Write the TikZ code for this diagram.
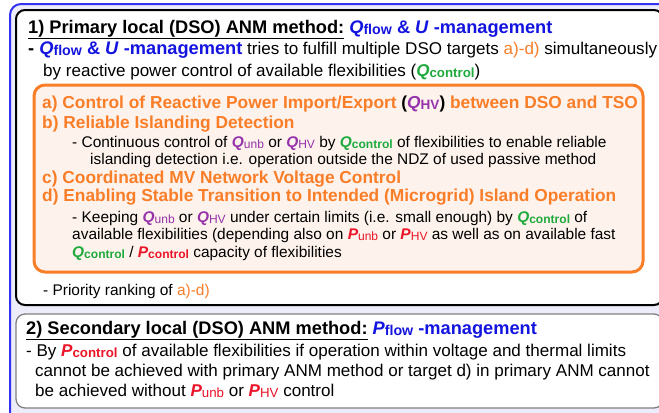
\documentclass[tikz,border=0pt]{standalone}
\usepackage{fontspec}
\setmainfont{Liberation Sans}

\definecolor{qblue}{RGB}{20,20,225}
\definecolor{qorange}{RGB}{250,125,40}
\definecolor{qpurple}{RGB}{150,50,170}
\definecolor{qgreen}{RGB}{30,170,60}
\definecolor{qred}{RGB}{235,20,40}
\definecolor{frameblue}{RGB}{50,50,240}
\definecolor{framefill}{RGB}{236,236,250}
\definecolor{peach}{RGB}{253,243,236}

% small lowered index text, scaled from the surrounding size
\makeatletter
\newcommand\sbx[1]{\raisebox{-1bp}{\fontsize{\the\dimexpr0.78\dimexpr\f@size pt\relax\relax}{10pt}\selectfont #1}}
\makeatother
\newcommand\Qflow{\textcolor{qblue}{\textbf{\textit{Q}}\sbx{\bfseries flow}}}
\newcommand\Pflow{\textcolor{qblue}{\textbf{\textit{P}}\sbx{\bfseries flow}}}
\newcommand\Qctl{\textcolor{qgreen}{\textbf{\textit{Q}}\sbx{\bfseries control}}}
\newcommand\Pctl{\textcolor{qred}{\textbf{\textit{P}}\sbx{\bfseries control}}}
\newcommand\Qunb{\textcolor{qpurple}{\textbf{\textit{Q}}\sbx{unb}}}
\newcommand\QHV{\textcolor{qpurple}{\textbf{\textit{Q}}\sbx{HV}}}
\newcommand\Punb{\textcolor{qred}{\textbf{\textit{P}}\sbx{unb}}}
\newcommand\PHV{\textcolor{qred}{\textbf{\textit{P}}\sbx{HV}}}

\tikzset{
  txt/.style={anchor=base west, inner sep=0pt, font=\fontsize{17.1}{19}\selectfont},
  subtxt/.style={anchor=base west, inner sep=0pt, font=\fontsize{15.5}{17}\selectfont},
  head/.style={anchor=base west, inner sep=0pt, font=\fontsize{18.3}{20}\bfseries\selectfont},
  item/.style={anchor=base west, inner sep=0pt, font=\fontsize{17.4}{19}\bfseries\selectfont, text=qorange},
}

\begin{document}
\begin{tikzpicture}[x=1bp, y=-1bp]
\useasboundingbox (0,0) rectangle (659,412);

% frames
\draw[frameblue, line width=2bp, fill=framefill, rounded corners=11bp] (10,4) rectangle (690,425);
\draw[black, line width=2bp, fill=white, rounded corners=9bp] (16,10) rectangle (663,305);
\draw[gray, line width=1.3bp, fill=white, rounded corners=9bp] (16,314) rectangle (663,408);
\draw[qorange, line width=3bp, fill=peach, rounded corners=11bp] (34,85) rectangle (643,272);

% primary method
\node[head] (h1) at (28,33) {\underline{1) Primary local (DSO) ANM method:} \textcolor{qblue}{\Qflow{} \& \textit{U} -management}};
\node[txt] (l2) at (28,54) {{\fontsize{18.3}{20}\bfseries\selectfont - \textcolor{qblue}{\Qflow{} \& \textit{U} -management}} tries to fulfill multiple DSO targets \textcolor{qorange}{a)-d)} simultaneously};
\node[txt] (l3) at (43,76) {by reactive power control of available flexibilities (\Qctl)};

% targets
\node[item] (ta) at (42,108) {a) Control of Reactive Power Import/Export \textcolor{black}{(}\QHV\textcolor{black}{)} between DSO and TSO};
\node[item] (tb) at (42,128) {b) Reliable Islanding Detection};
\node[subtxt] (tb1) at (72,147) {- Continuous control of \Qunb{} or \QHV{} by \Qctl{} of flexibilities to enable reliable};
\node[subtxt] (tb2) at (90,164) {islanding detection i.e. operation outside the NDZ of used passive method};
\node[item] (tc) at (42,183) {c) Coordinated MV Network Voltage Control};
\node[item] (td) at (42,201.5) {d) Enabling Stable Transition to Intended (Microgrid) Island Operation};
\node[subtxt] (td1) at (72,222) {- Keeping \Qunb{} or \QHV{} under certain limits (i.e. small enough) by \Qctl{} of};
\node[subtxt] (td2) at (72,239.5) {available flexibilities (depending also on \Punb{} or \PHV{} as well as on available fast};
\node[subtxt] (td3) at (72,257) {\Qctl{} / \Pctl{} capacity of flexibilities};

\node[subtxt] (prio) at (43,295.5) {- Priority ranking of \textcolor{qorange}{a)-d)}};

% secondary method
\node[head] (h2) at (26,334.5) {\underline{2) Secondary local (DSO) ANM method:} \textcolor{qblue}{\Pflow{} -management}};
\node[txt] (s1) at (26,356) {- By \Pctl{} of available flexibilities if operation within voltage and thermal limits};
\node[txt] (s2) at (35,376) {cannot be achieved with primary ANM method or target d) in primary ANM cannot};
\node[txt] (s3) at (35,396) {be achieved without \Punb{} or \PHV{} control};
\end{tikzpicture}
\end{document}
